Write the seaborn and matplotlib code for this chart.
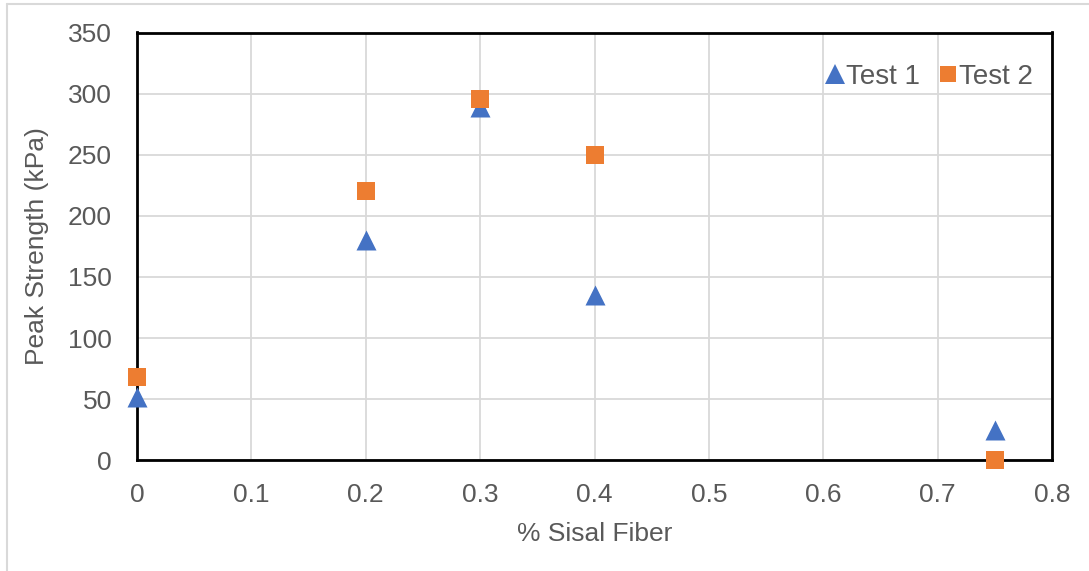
import matplotlib
matplotlib.use("Agg")
import matplotlib.pyplot as plt
import seaborn as sns
import pandas as pd
from matplotlib.lines import Line2D

# Data
fiber_pct = [0, 0.2, 0.3, 0.4, 0.75]
test1 = [52, 180, 289, 135, 25]
test2 = [68, 220, 296, 250, 0]
series_names = ["Test 1", "Test 2"]
x_ticks = [0, 0.1, 0.2, 0.3, 0.4, 0.5, 0.6, 0.7, 0.8]
y_ticks = [0, 50, 100, 150, 200, 250, 300, 350]

blue = "#4472C4"
orange = "#ED7D31"
text_gray = "#595959"

df1 = pd.DataFrame({"x": fiber_pct, "y": test1})
df2 = pd.DataFrame({"x": fiber_pct, "y": test2})

sns.set_theme(style="white")
plt.rcParams["font.family"] = ["Liberation Sans", "DejaVu Sans"]

fig = plt.figure(figsize=(10.89, 5.71), dpi=100)
ax = fig.add_axes([137 / 1089, 1 - 460.3 / 571, (1052 - 137) / 1089, (460.3 - 32.5) / 571])

sns.scatterplot(data=df1, x="x", y="y", ax=ax, marker="^", s=14.4 ** 2,
                color=blue, linewidth=0, zorder=3, clip_on=False)
sns.scatterplot(data=df2, x="x", y="y", ax=ax, marker="s", s=12.5 ** 2,
                color=orange, linewidth=0, zorder=4, clip_on=False)

ax.set_xlim(0, 0.8)
ax.set_ylim(0, 350)
ax.set_xticks(x_ticks)
ax.set_yticks(y_ticks)
ax.set_xticklabels([f"{t:g}" for t in x_ticks])
ax.set_yticklabels([str(t) for t in y_ticks])

ax.grid(True, color="#d9d9d9", linewidth=1.3, zorder=0)
ax.set_axisbelow(True)
for sp in ax.spines.values():
    sp.set_color("black")
    sp.set_linewidth(2)
    sp.set_visible(True)

ax.tick_params(axis="both", direction="in", length=7, width=2, color="black",
               labelsize=19, labelcolor=text_gray)
ax.tick_params(axis="x", pad=16)
ax.tick_params(axis="y", pad=18)

ax.set_xlabel("% Sisal Fiber", fontsize=19, color=text_gray, labelpad=11)
ax.set_ylabel("Peak Strength (kPa)", fontsize=19, color=text_gray, labelpad=14)

handles = [
    Line2D([], [], marker="^", linestyle="none", markersize=14, color=blue, markeredgewidth=0),
    Line2D([], [], marker="s", linestyle="none", markersize=12, color=orange, markeredgewidth=0),
]
leg = ax.legend(handles, series_names, loc="upper right", bbox_to_anchor=(0.997, 0.965),
                ncol=2, frameon=False, fontsize=20, handlelength=0.6, handletextpad=0.1,
                columnspacing=0.7, borderaxespad=0.2)
for t in leg.get_texts():
    t.set_color(text_gray)

# figure border (top and left)
fig.add_artist(Line2D([7 / 1089, 1], [1 - 4 / 571, 1 - 4 / 571], transform=fig.transFigure,
                      color="#d9d9d9", linewidth=1.5))
fig.add_artist(Line2D([7 / 1089, 7 / 1089], [0, 1 - 4 / 571], transform=fig.transFigure,
                      color="#d9d9d9", linewidth=1.5))

fig.savefig("out.png", dpi=100)
